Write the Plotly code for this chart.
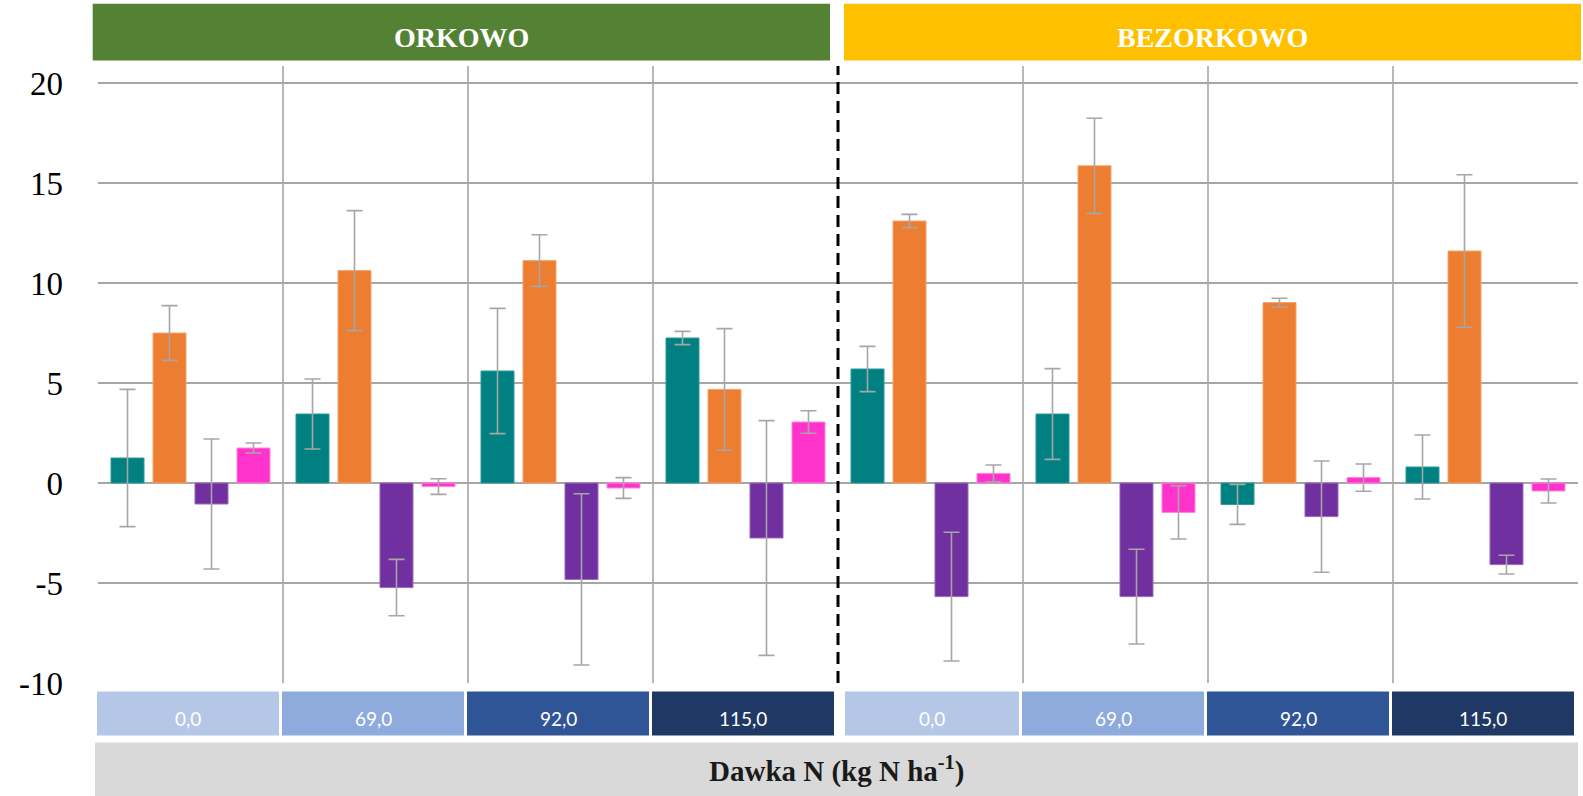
import plotly.graph_objects as go

# Dose groups along the x axis (two tillage systems x four N doses)
systems = ["ORKOWO", "BEZORKOWO"]
dose_labels = ["0,0", "69,0", "92,0", "115,0", "0,0", "69,0", "92,0", "115,0"]
dose_colors = ["#B4C7E7", "#8FAADC", "#2F5597", "#203864"]
positions = list(range(len(dose_labels)))

# Series means and error bar half-widths
teal_vals = [1.25, 3.45, 5.6, 7.25, 5.7, 3.45, -1.07, 0.8]
teal_err = [3.43, 1.75, 3.13, 0.33, 1.13, 2.27, 1.0, 1.6]
orange_vals = [7.5, 10.62, 11.12, 4.68, 13.1, 15.86, 9.02, 11.6]
orange_err = [1.37, 3.0, 1.29, 3.04, 0.33, 2.38, 0.22, 3.81]
purple_vals = [-1.05, -5.23, -4.82, -2.75, -5.68, -5.68, -1.68, -4.08]
purple_err = [3.25, 1.41, 4.28, 5.87, 3.22, 2.37, 2.78, 0.47]
pink_vals = [1.75, -0.18, -0.25, 3.05, 0.48, -1.47, 0.27, -0.4]
pink_err = [0.25, 0.39, 0.52, 0.56, 0.42, 1.33, 0.68, 0.6]

series = [
    (teal_vals, teal_err, "#008080", "#2A9A9A"),
    (orange_vals, orange_err, "#ED7D31", "#F4A46E"),
    (purple_vals, purple_err, "#7030A0", "#9A6ABE"),
    (pink_vals, pink_err, "#FF33CC", "#FF85E0"),
]

y_ticks = [-10, -5, 0, 5, 10, 15, 20]
y_range = [-10, 20.85]

W, H = 1583, 796
L, R, T, B = 98, 1578, 66.3, 683.3  # plot area in pixels
GRID = "#A6A6A6"


def px_x(p):
    return (p - L) / (R - L)


def px_y(p):
    return (B - p) / (B - T)


def cat_px(c):
    # pixel position of a category coordinate
    return L + (c + 0.5) * (R - L) / len(dose_labels)


fig = go.Figure()
for vals, errs, color, edge in series:
    fig.add_trace(go.Bar(
        x=positions,
        y=vals,
        marker=dict(color=color, line=dict(color=edge, width=1)),
        error_y=dict(type="data", array=errs, visible=True,
                     color=GRID, thickness=1.6, width=8),
        showlegend=False,
    ))

shapes = []
# vertical separators between dose groups
for i in range(len(dose_labels) - 1):
    c = i + 0.5
    if i == 3:
        shapes.append(dict(type="line", xref="x", yref="paper", x0=c, x1=c,
                           y0=0, y1=1.0,
                           line=dict(color="#000000", width=3, dash="12px,7px")))
    else:
        shapes.append(dict(type="line", xref="x", yref="paper", x0=c, x1=c,
                           y0=0, y1=1.0, line=dict(color=GRID, width=1.6),
                           layer="below"))

# tillage headers
header_cols = ["#548235", "#FFC000"]
header_spans = [(92.7, 830), (844, 1581)]
annotations = []
for name, col, (a, b) in zip(systems, header_cols, header_spans):
    shapes.append(dict(type="rect", xref="paper", yref="paper",
                       x0=px_x(a), x1=px_x(b), y0=px_y(60.7), y1=px_y(4),
                       fillcolor=col, line=dict(width=0)))
    annotations.append(dict(xref="paper", yref="paper", x=px_x((a + b) / 2),
                            y=px_y(38), text=name, showarrow=False,
                            xanchor="center", yanchor="middle",
                            font=dict(family="Liberation Serif", size=28,
                                      color="#FFFFFF", weight="bold")))

# dose boxes under the axis
for i, lab in enumerate(dose_labels):
    a = cat_px(i - 0.5) + (7 if i == 4 else -1)
    b = cat_px(i + 0.5) - 4
    shapes.append(dict(type="rect", xref="paper", yref="paper",
                       x0=px_x(a), x1=px_x(b), y0=px_y(735.7), y1=px_y(691.7),
                       fillcolor=dose_colors[i % 4], line=dict(width=0)))
    annotations.append(dict(xref="paper", yref="paper", x=px_x((a + b) / 2),
                            y=px_y(719), text=lab, showarrow=False,
                            xanchor="center", yanchor="middle",
                            font=dict(family="Lato", size=19, color="#FFFFFF")))

# axis title band
shapes.append(dict(type="rect", xref="paper", yref="paper",
                   x0=px_x(95), x1=px_x(1578), y0=px_y(797), y1=px_y(742.7),
                   fillcolor="#D9D9D9", line=dict(width=0)))
annotations.append(dict(xref="paper", yref="paper", x=px_x(836), y=px_y(770),
                        text="Dawka N (kg N ha<sup>-1</sup>)", showarrow=False,
                        xanchor="center", yanchor="middle",
                        font=dict(family="Liberation Serif", size=29,
                                  color="#1A1A1A", weight="bold")))

fig.update_layout(
    width=W, height=H,
    margin=dict(l=L, r=W - R, t=T, b=H - B),
    paper_bgcolor="#FFFFFF", plot_bgcolor="#FFFFFF",
    barmode="group", bargap=0.092, bargroupgap=0.214,
    shapes=shapes, annotations=annotations,
    xaxis=dict(range=[-0.5, len(dose_labels) - 0.5], showticklabels=False,
               showgrid=False, zeroline=False, showline=False, fixedrange=True),
    yaxis=dict(range=y_range, tickvals=y_ticks,
               ticktext=[str(v) for v in y_ticks],
               showgrid=True, gridcolor=GRID, gridwidth=1.6,
               zeroline=True, zerolinecolor=GRID, zerolinewidth=1.6,
               showline=False, ticks="", ticklabelstandoff=34,
               tickfont=dict(family="Liberation Serif", size=33, color="#000000")),
)

fig.write_html("out.html")
